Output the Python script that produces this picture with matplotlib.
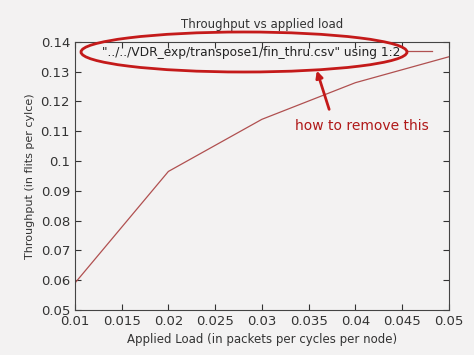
import matplotlib.pyplot as plt
from matplotlib.patches import Ellipse

load = [0.01, 0.02, 0.03, 0.04, 0.05]
throughput = [0.059, 0.0965, 0.114, 0.1263, 0.135]
x_ticks = [0.01, 0.015, 0.02, 0.025, 0.03, 0.035, 0.04, 0.045, 0.05]
x_labels = ["0.01", "0.015", "0.02", "0.025", "0.03", "0.035", "0.04", "0.045", "0.05"]
y_ticks = [0.05, 0.06, 0.07, 0.08, 0.09, 0.1, 0.11, 0.12, 0.13, 0.14]
y_labels = ["0.05", "0.06", "0.07", "0.08", "0.09", "0.1", "0.11", "0.12", "0.13", "0.14"]
legend_label = '"../../VDR_exp/transpose1/fin_thru.csv" using 1:2'

bg = "#f3f2f2"
fig = plt.figure(figsize=(4.74, 3.55), dpi=100, facecolor=bg)
ax = fig.add_axes([0.158, 0.127, 0.789, 0.755], facecolor=bg)

ax.plot(load, throughput, color="#b05050", lw=0.9, label=legend_label)
ax.set_xlim(0.01, 0.05)
ax.set_ylim(0.05, 0.14)
ax.set_xticks(x_ticks, x_labels)
ax.set_yticks(y_ticks, y_labels)
ax.tick_params(direction="in", length=4, width=0.8, labelsize=9.5,
               colors="#333333", top=True, right=True)
for s in ax.spines.values():
    s.set_color("#444444")
    s.set_linewidth(0.8)

ax.set_title("Throughput vs applied load", fontsize=8.5, color="#333333", pad=10)
ax.set_xlabel("Applied Load (in packets per cycles per node)", fontsize=8.5, color="#333333")
ax.set_ylabel("Throughput (in flits per cylce)", fontsize=8, color="#333333")

leg = ax.legend(loc="upper right", frameon=False, fontsize=8.8, handlelength=2.1,
                markerfirst=False, borderaxespad=0.0, borderpad=0.3,
                handletextpad=0.5, bbox_to_anchor=(0.965, 1.0))
for t in leg.get_texts():
    t.set_color("#222222")

# hand-drawn annotation
red = "#c41a1a"
fig.patches.append(Ellipse((244 / 474, 1 - 52 / 355), 326 / 474, 40 / 355,
                           transform=fig.transFigure, fill=False,
                           edgecolor=red, lw=2.0))
fig.text(362 / 474, 1 - 126 / 355, "how to remove this", color="#b01818",
         fontsize=10, ha="center", va="center")
ax.annotate("", xy=(316 / 474, 1 - 68 / 355), xytext=(330 / 474, 1 - 112 / 355),
            xycoords="figure fraction", textcoords="figure fraction",
            arrowprops=dict(arrowstyle="-|>", color=red, lw=2, mutation_scale=10))

fig.savefig("out.png", dpi=100, facecolor=bg)
